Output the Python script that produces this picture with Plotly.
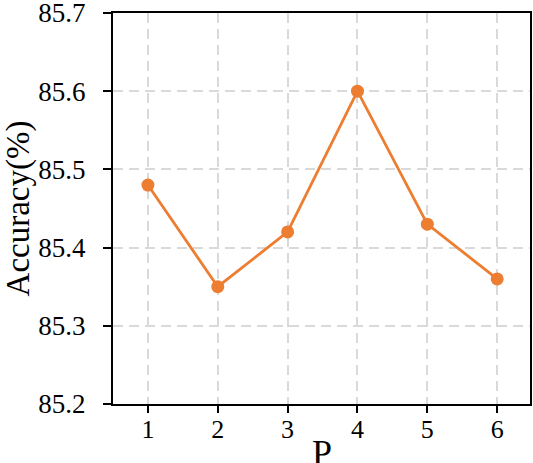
import plotly.graph_objects as go

p_values = [1, 2, 3, 4, 5, 6]
accuracy = [85.48, 85.35, 85.42, 85.60, 85.43, 85.36]
y_ticks = [85.2, 85.3, 85.4, 85.5, 85.6, 85.7]

fig = go.Figure()
fig.add_trace(go.Scatter(
    x=p_values, y=accuracy, mode="lines+markers",
    line=dict(color="#ED7D31", width=2.8),
    marker=dict(color="#ED7D31", size=13),
    showlegend=False,
))

font_family = "Liberation Serif"
fig.update_layout(
    width=533, height=463,
    margin=dict(l=113, r=3, t=13, b=59),
    paper_bgcolor="white", plot_bgcolor="white",
    font=dict(family=font_family, color="black", size=26),
    xaxis=dict(
        range=[0.5, 6.47], tickvals=p_values, ticktext=[str(v) for v in p_values],
        showline=True, linecolor="black", linewidth=2, mirror=True,
        ticks="outside", ticklen=7, tickwidth=1.5, tickcolor="black",
        showgrid=True, gridcolor="#d9d9d9", gridwidth=1.5, griddash="10px,6px",
        zeroline=False, automargin=False, ticklabeloverflow="allow",
        tickfont=dict(family=font_family, size=26, color="black"), ticklabelstandoff=-6,
    ),
    yaxis=dict(
        range=[85.2, 85.7], tickvals=y_ticks, ticktext=[f"{v:.1f}" for v in y_ticks],
        showline=True, linecolor="black", linewidth=2, mirror=True,
        ticks="outside", ticklen=8, tickwidth=1.5, tickcolor="black",
        showgrid=True, gridcolor="#d9d9d9", gridwidth=1.5, griddash="10px,6px",
        zeroline=False, automargin=False, ticklabeloverflow="allow",
        title=dict(text="Accuracy(%)", font=dict(family=font_family, size=33, color="black"), standoff=8),
        tickfont=dict(family=font_family, size=27, color="black"), ticklabelstandoff=12,
    ),
    annotations=[dict(
        text="P", xref="paper", yref="paper", x=0.5, y=0,
        xanchor="center", yanchor="top", yshift=-27, showarrow=False,
        font=dict(family=font_family, size=36, color="black"),
    )],
)

fig.write_html("out.html", post_script="document.body.style.margin='0';",
               config={"displayModeBar": False})
